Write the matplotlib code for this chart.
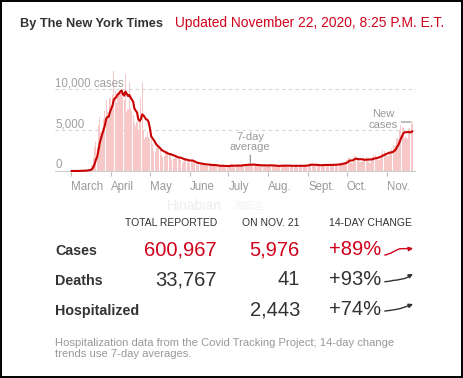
import numpy as np
import pandas as pd
import matplotlib
matplotlib.use("Agg")
import matplotlib.pyplot as plt
import matplotlib.dates as mdates
from matplotlib.patches import Rectangle
from matplotlib.transforms import ScaledTranslation, blended_transform_factory

plt.rcParams['font.family'] = ['Liberation Sans', 'DejaVu Sans']

# daily new cases (Mar 1 .. Nov 21, 2020)
mar = [1, 0, 1, 9, 11, 11, 32, 30, 37, 31, 47, 104, 97, 172, 204, 270, 700, 1600, 2900, 3500,
       2900, 5600, 6600, 4800, 5200, 6400, 7300, 8600, 7200, 6900, 8900]
apr = [7900, 9300, 12200, 9800, 8300, 9000, 9600, 9800, 10000, 9000, 8600, 11800, 7200, 7600, 10800,
       7700, 7300, 6800, 5800, 5500, 6000, 5000, 6300, 8900, 10800, 5000, 3900, 4200, 4700, 4100]
may = [3900, 3800, 3300, 2500, 2300, 2800, 3000, 2900, 2600, 2000, 1700, 1800, 2200, 2400, 2300, 2100,
       1900, 1300, 1500, 1600, 2000, 1800, 1600, 1600, 1300, 1000, 1200, 1500, 1600, 1400, 1200]
jun = [1000, 1100, 1200, 1100, 1000, 900, 700, 800, 900, 1000, 900, 800, 700, 600, 700, 800, 900, 750,
       650, 700, 600, 550, 600, 700, 650, 700, 600, 550, 400, 700]
jul = [600, 700, 900, 700, 500, 500, 600, 700, 800, 750, 800, 700, 600, 700, 800, 900, 850, 800, 750,
       700, 650, 700, 750, 800, 700, 650, 600, 650, 750, 700, 700]
aug = [750, 700, 600, 550, 700, 700, 650, 600, 500, 650, 700, 750, 700, 650, 600, 500, 650, 700, 650,
       700, 650, 550, 600, 650, 600, 650, 700, 650, 600, 700, 650]
sep = [800, 900, 950, 800, 600, 550, 700, 750, 750, 800, 800, 700, 600, 700, 750, 800, 850, 800, 700,
       650, 700, 850, 900, 900, 850, 800, 900, 1000, 1100, 1000]
oct_ = [1400, 1600, 1700, 1200, 1000, 1400, 1800, 1800, 1500, 1400, 1100, 1100, 1300, 1600, 1500, 1700,
        1400, 1300, 1000, 1400, 1700, 2000, 2000, 1600, 1600, 1300, 1800, 2200, 2600, 2500, 2200]
nov = [2100, 1800, 2200, 2400, 2700, 3000, 3000, 3200, 4000, 3800, 5000, 5600, 5400, 5200, 4000, 4100,
       3900, 5100, 5200, 5700, 5976]

month_labels = ['March', 'April', 'May', 'June', 'July', 'Aug.', 'Sept.', 'Oct.', 'Nov.']
y_values = [0, 5000, 10000]
y_labels = ['0', '5,000', '10,000 cases']

columns = ['TOTAL REPORTED', 'ON NOV. 21', '14-DAY CHANGE']
rows = ['Cases', 'Deaths', 'Hospitalized']
totals = ['600,967', '33,767', '']
latest = ['5,976', '41', '2,443']
changes = ['+89%', '+93%', '+74%']
# 7-day averages over the last two weeks (deaths, hospitalized)
deaths_trend = [20.0, 20.5, 21, 22, 23, 23.5, 24, 25, 26, 27, 28, 30, 33, 36, 38.6]
hosp_trend = [1400, 1430, 1470, 1510, 1560, 1610, 1660, 1720, 1800, 1900, 2000, 2100, 2210, 2320, 2440]

note = ("Hospitalization data from the Covid Tracking Project; 14-day change\n"
        "trends use 7-day averages.")

daily = mar + apr + may + jun + jul + aug + sep + oct_ + nov
dates = pd.date_range('2020-03-01', periods=len(daily), freq='D')
avg = pd.Series(daily).rolling(7, min_periods=1).mean()
month_ticks = pd.date_range('2020-03-01', '2020-11-01', freq='MS')

RED = '#d0021b'
LINE = '#c80000'
DARK = '#333333'
GRAY = '#999999'
W, H = 463, 378
PT = 0.72  # points per pixel at 100 dpi

fig = plt.figure(figsize=(W / 100, H / 100), dpi=100)
bg = fig.add_axes([0, 0, 1, 1])
bg.set_xlim(0, W)
bg.set_ylim(H, 0)
bg.axis('off')


def px_axes(x0, y0, x1, y1):
    return fig.add_axes([x0 / W, 1 - y1 / H, (x1 - x0) / W, (y1 - y0) / H])


# ---- header
bg.text(20, 27.3, 'By The New York Times', fontsize=9.2, fontweight='bold', color=DARK, va='baseline')
bg.text(175, 27.3, 'Updated November 22, 2020, 8:25 P.M. E.T.', fontsize=9.9, color=RED, va='baseline')

# faint watermark
bg.text(194, 206, 'Hinabian', fontsize=10, color='#ededed', ha='center', va='center')
bg.text(248, 206, '海那边', fontsize=7, color='#f2f2f2', ha='center', va='center',
        family=['Noto Sans CJK SC', 'DejaVu Sans'])

# ---- chart
ax = px_axes(55, 62, 416, 172)
ax.set_facecolor('none')
x0_px, px_per_day = 71.4, 1.287
zero_px, px_per_case = 171, 0.0082
d0 = mdates.date2num(dates[0])
ax.set_xlim(d0 + (55 - x0_px) / px_per_day, d0 + (416 - x0_px) / px_per_day)
ax.set_ylim((zero_px - 172) / px_per_case, (zero_px - 62) / px_per_case)

ax.bar(dates, daily, width=0.85, color='#f6c8c8', linewidth=0, zorder=1)
ax.plot(dates, avg, color=LINE, lw=1.5, zorder=3, solid_capstyle='round')

for v in y_values[1:]:
    ax.axhline(v, color='#d4d4d4', lw=0.8, ls=(0, (3, 3)), zorder=0)
ax.axhline(0, color='#cccccc', lw=0.8, zorder=2)

ylab_tr = blended_transform_factory(ax.transAxes, ax.transData) + \
    ScaledTranslation(0, 2.8 / 100, fig.dpi_scale_trans)
for v, lab in zip(y_values, y_labels):
    ax.text(0, v, lab, transform=ylab_tr, fontsize=8.3, color='#a0a0a0', va='baseline', ha='left')

ax.set_xticks(month_ticks)
ax.set_xticklabels(month_labels, ha='left')
shift = ScaledTranslation(-4.5 / 100, 0, fig.dpi_scale_trans)
for lab in ax.get_xticklabels():
    lab.set_transform(lab.get_transform() + shift)
ax.tick_params(axis='x', length=3, width=0.8, color='#bbbbbb', pad=3.4, labelsize=8.3, labelcolor=GRAY)
ax.set_yticks([])
for s in ax.spines.values():
    s.set_visible(False)

# 7-day average label
i7 = 139
ax.annotate('7-day\naverage', xy=(dates[i7], avg[i7]), xytext=(0, 12.4 * PT), textcoords='offset points',
            ha='center', va='bottom', fontsize=8, color=GRAY, linespacing=1.1,
            arrowprops=dict(arrowstyle='-', color='#888888', lw=0.8, shrinkA=0, shrinkB=1))

# New cases label
ax.annotate('', xy=(dates[-1], daily[-1]), xytext=(-11 * PT, 0), textcoords='offset points',
            arrowprops=dict(arrowstyle='-', color='#888888', lw=0.8, shrinkA=0, shrinkB=1))
ax.annotate('New\ncases', xy=(dates[-1], daily[-1]), xytext=(-14.5 * PT, -7.7 * PT), textcoords='offset points',
            ha='right', va='bottom', fontsize=8, color=GRAY, linespacing=1.1, multialignment='center')

# ---- table
col_x = [217, 300, 329]
col_ha = ['right', 'right', 'left']
for x, ha, c in zip(col_x, col_ha, columns):
    bg.text(x, 226, c, fontsize=7.5, color=DARK, ha=ha, va='baseline')

row_y = [255, 285, 315]
spark_box = [(248.3, 255), (274, 281.7), (304, 311)]
trends = [list(avg.iloc[-15:]), deaths_trend, hosp_trend]
for i, (y, name) in enumerate(zip(row_y, rows)):
    color = RED if i == 0 else DARK
    bg.text(55, y, name, fontsize=10.3, fontweight='bold', color=DARK, va='baseline')
    bg.text(217, y, totals[i], fontsize=14.5, color=color, ha='right', va='baseline')
    bg.text(300, y, latest[i], fontsize=14.5, color=color, ha='right', va='baseline')
    bg.text(329, y, changes[i], fontsize=14.5, color=color, ha='left', va='baseline')

    sp = px_axes(385, spark_box[i][0], 413, spark_box[i][1])
    t = trends[i]
    n = len(t)
    sp.plot(range(n - 1), t[:-1], color=RED if i == 0 else DARK, lw=1.0, clip_on=False)
    sp.annotate('', xy=(n - 1, t[-1]), xytext=(n - 2, t[-2]),
                arrowprops=dict(arrowstyle='-|>', mutation_scale=6, lw=1.0,
                                color=RED if i == 0 else DARK, shrinkA=0, shrinkB=0))
    sp.set_xlim(0, n - 1)
    sp.set_ylim(min(t), max(t))
    sp.axis('off')

# ---- footnote (baseline of the last line)
bg.text(55, 356.7, note, fontsize=8.1, color=GRAY, va='baseline', linespacing=1.15)

# outer frame
bg.add_patch(Rectangle((1, 1), 461, 375.5, fill=False, edgecolor='black', lw=1.4))

fig.savefig('out.png', dpi=100)
